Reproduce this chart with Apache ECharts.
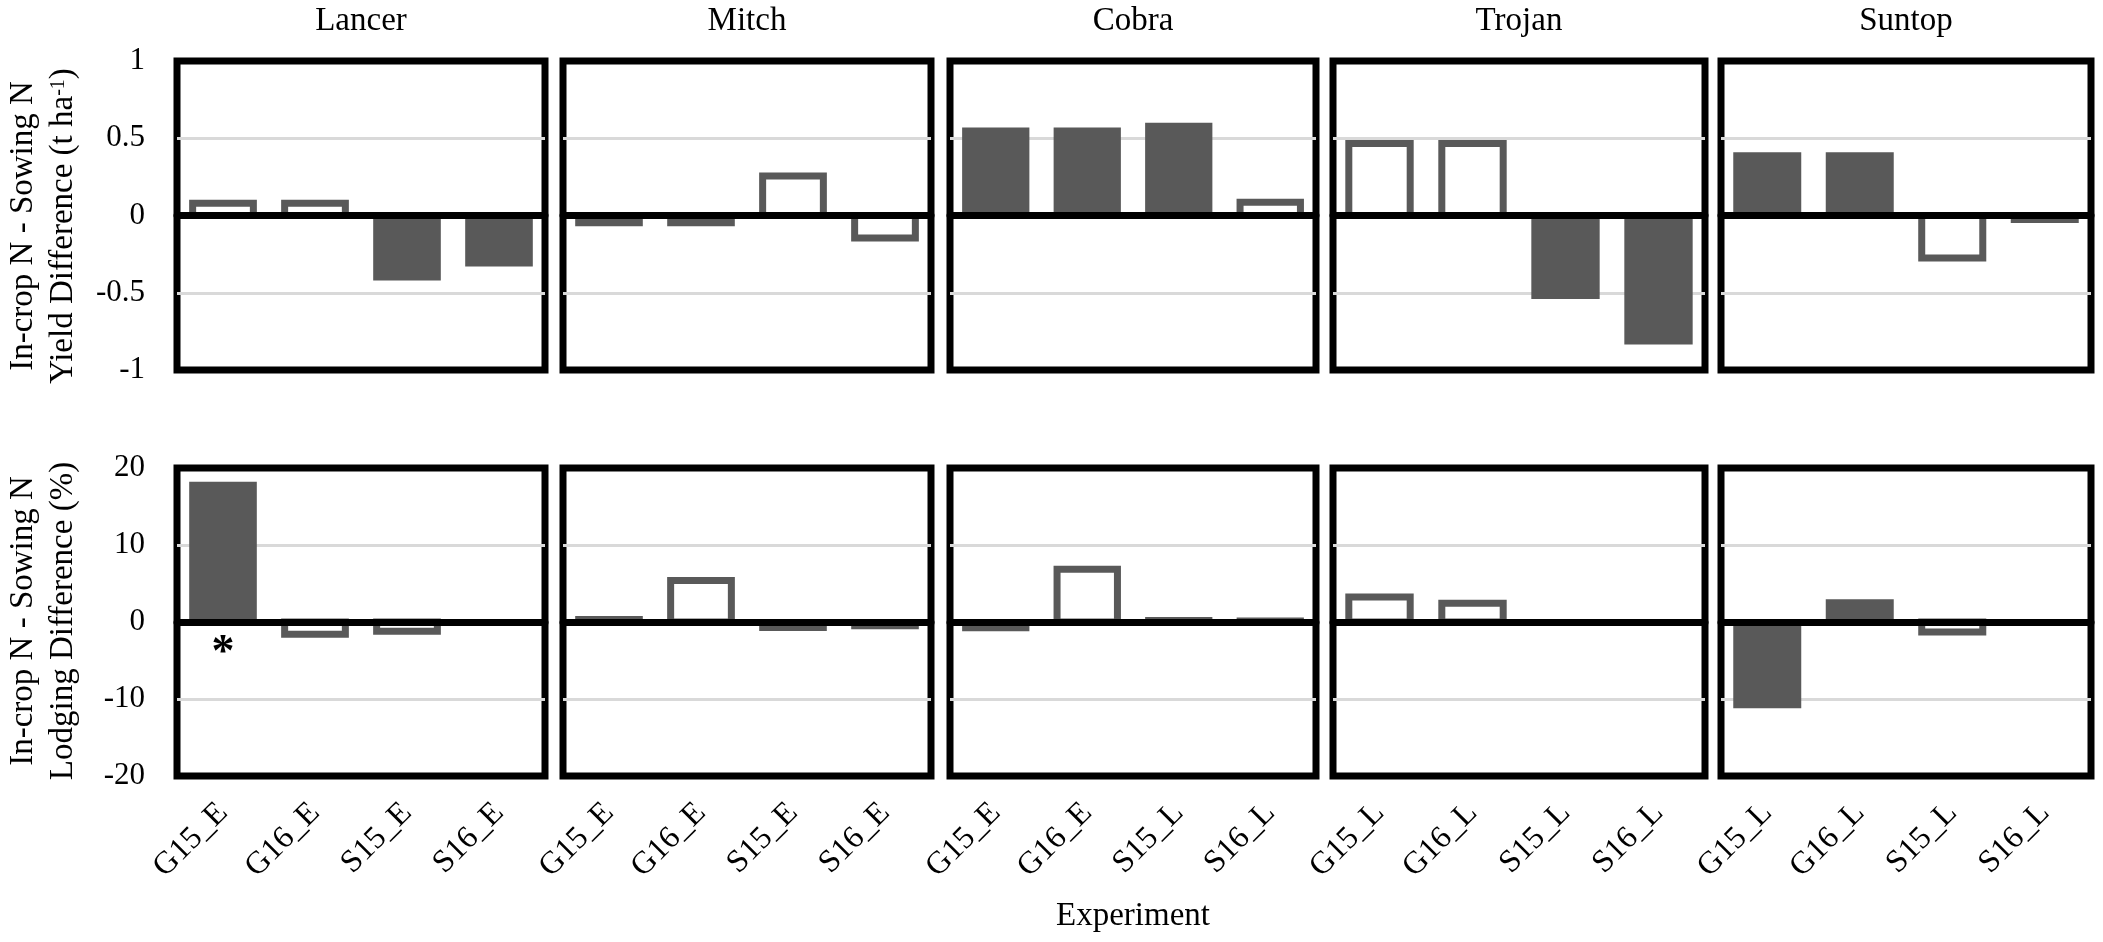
<!DOCTYPE html>
<html lang="en">
<head>
<meta charset="UTF-8">
<title>In-crop N - Sowing N differences</title>
<script src="https://cdn.jsdelivr.net/npm/echarts@6/dist/echarts.min.js"></script>
<style>body{margin:0;background:#fff;}</style>
</head>
<body>
<div id="main" style="width:2103px;height:942px;"></div>
<script>
// cultivars (one panel each) and the experiments shown in each panel
var cultivars = ['Lancer', 'Mitch', 'Cobra', 'Trojan', 'Suntop'];
var experiments = [
    ['G15_E', 'G16_E', 'S15_E', 'S16_E'],
    ['G15_E', 'G16_E', 'S15_E', 'S16_E'],
    ['G15_E', 'G16_E', 'S15_L', 'S16_L'],
    ['G15_L', 'G16_L', 'S15_L', 'S16_L'],
    ['G15_L', 'G16_L', 'S15_L', 'S16_L']
];

// yield difference (t/ha)
var yieldDiff = [
    [0.08, 0.08, -0.42, -0.33],
    [-0.07, -0.07, 0.255, -0.145],
    [0.57, 0.57, 0.60, 0.086],
    [0.466, 0.466, -0.54, -0.835],
    [0.41, 0.41, -0.275, -0.048]
];
// 1 = open (white) bar, 0 = solid bar
var yieldOpen = [
    [1, 1, 0, 0],
    [0, 0, 1, 1],
    [0, 0, 0, 1],
    [1, 1, 0, 0],
    [0, 0, 1, 0]
];

// lodging difference (%)
var lodgingDiff = [
    [18.2, -1.6, -1.2, 0],
    [0.78, 5.4, -1.17, -0.95],
    [-1.2, 6.85, 0.65, 0.6],
    [3.25, 2.45, 0, 0],
    [-11.2, 2.95, -1.3, 0]
];
var lodgingOpen = [
    [0, 1, 1, 0],
    [0, 1, 0, 0],
    [0, 1, 0, 0],
    [1, 1, 0, 0],
    [0, 0, 1, 0]
];
var lodgingSig = [
    ['*', '', '', ''],
    ['', '', '', ''],
    ['', '', '', ''],
    ['', '', '', ''],
    ['', '', '', '']
];

var yieldTicks = { min: -1, max: 1, interval: 0.5 };
var lodgingTicks = { min: -20, max: 20, interval: 10 };

var yieldName = '{a|In-crop N - Sowing N}\n{a|Yield Difference (t ha}{sup|-1}{a|)}';
var lodgingName = '{a|In-crop N - Sowing N}\n{a|Lodging Difference (%)}';

var font = 'Liberation Serif';
var barColor = '#595959';
var panelLeft = [177, 563, 950, 1333, 1721];
var panelWidth = [368, 368, 366, 372, 370];
var rowTop = [61, 468];
var rowHeight = [309, 308];

var rows = [
    { values: yieldDiff, open: yieldOpen, sig: null, ticks: yieldTicks, name: yieldName, nameY: 226 },
    { values: lodgingDiff, open: lodgingOpen, sig: lodgingSig, ticks: lodgingTicks, name: lodgingName, nameY: 621 }
];

var nameRich = {
    a: { fontFamily: font, fontSize: 33, lineHeight: 40, fill: '#000' },
    sup: { fontFamily: font, fontSize: 20, lineHeight: 40, verticalAlign: 'top', padding: [6, 0, 0, 0], fill: '#000' }
};

// solid bars have no outline; open bars are white with a grey outline centred on the bar edge
function makeBars(open, sig) {
    return function (params, api) {
        var k = params.dataIndex;
        var base = api.coord([api.value(0), 0]);
        var end = api.coord([api.value(0), api.value(1)]);
        var band = api.size([1, 0])[0];
        var y0 = Math.min(base[1], end[1]);
        var h = Math.abs(end[1] - base[1]);
        var kids = [];
        if (open[k]) {
            var wo = band * 0.66;
            kids.push({
                type: 'rect',
                shape: { x: base[0] - wo / 2, y: y0, width: wo, height: h },
                style: { fill: '#fff', stroke: barColor, lineWidth: 7 }
            });
        } else if (h > 0) {
            var wf = band * 0.735;
            kids.push({
                type: 'rect',
                shape: { x: base[0] - wf / 2, y: y0, width: wf, height: h },
                style: { fill: barColor }
            });
        }
        if (sig && sig[k]) {
            kids.push({
                type: 'text', x: base[0], y: base[1] + 9,
                style: { text: sig[k], fill: '#000', font: 'bold 46px Liberation Serif', align: 'center', verticalAlign: 'top' }
            });
        }
        return { type: 'group', children: kids };
    };
}

var grids = [], xAxes = [], yAxes = [], series = [], titles = [], texts = [];

rows.forEach(function (row, r) {
    texts.push({
        type: 'text', x: 43, y: row.nameY, rotation: Math.PI / 2,
        style: { text: row.name, rich: nameRich, align: 'center', verticalAlign: 'middle' }
    });

    cultivars.forEach(function (name, c) {
        var g = grids.length;
        grids.push({
            left: panelLeft[c], top: rowTop[r],
            width: panelWidth[c], height: rowHeight[r],
            show: true, borderColor: '#000', borderWidth: 7,
            backgroundColor: 'transparent'
        });

        // axis line on zero
        var xi = xAxes.length;
        xAxes.push({
            type: 'category', gridIndex: g, data: experiments[c],
            axisLine: { onZero: true, lineStyle: { color: '#000', width: 7 } },
            axisTick: { show: false },
            axisLabel: { show: false },
            z: 3
        });
        // labels at the bottom of the lower row
        if (r === 1) {
            xAxes.push({
                type: 'category', gridIndex: g, data: experiments[c], position: 'bottom',
                axisLine: { show: false, onZero: false },
                axisTick: { show: false },
                axisLabel: {
                    interval: 0, rotate: 45, margin: 32,
                    fontFamily: font, fontSize: 32, color: '#000'
                }
            });
        }

        yAxes.push({
            type: 'value', gridIndex: g,
            min: row.ticks.min, max: row.ticks.max, interval: row.ticks.interval,
            axisLine: { show: false },
            axisTick: { show: false },
            splitLine: {
                show: true, showMinLine: false, showMaxLine: false,
                lineStyle: { color: '#d9d9d9', width: 3 }
            },
            axisLabel: {
                show: c === 0, margin: 32,
                fontFamily: font, fontSize: 31, color: '#000'
            }
        });

        series.push({
            type: 'custom', coordinateSystem: 'cartesian2d',
            xAxisIndex: xi, yAxisIndex: g,
            encode: { x: 0, y: 1 },
            renderItem: makeBars(row.open[c], row.sig ? row.sig[c] : null),
            data: row.values[c].map(function (v, k) { return [k, v]; })
        });

        if (r === 0) {
            titles.push({
                text: name, left: panelLeft[c] + panelWidth[c] / 2, top: 5,
                textAlign: 'center', padding: 0,
                textStyle: { fontFamily: font, fontSize: 33, fontWeight: 'normal', color: '#000' }
            });
        }
    });
});

titles.push({
    text: 'Experiment', left: 1133, top: 900, textAlign: 'center', padding: 0,
    textStyle: { fontFamily: font, fontSize: 33, fontWeight: 'normal', color: '#000' }
});

var chart = echarts.init(document.getElementById('main'));
chart.setOption({
    animation: false,
    title: titles,
    grid: grids,
    xAxis: xAxes,
    yAxis: yAxes,
    series: series,
    graphic: texts
});
</script>
</body>
</html>
